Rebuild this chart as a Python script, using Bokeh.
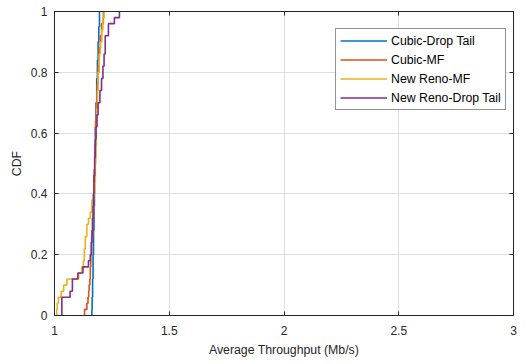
from bokeh.plotting import figure
from bokeh.models import Range1d, FixedTicker, LinearAxis, Legend, LegendItem
from bokeh.embed import file_html
from bokeh.resources import INLINE

# ---- data: CDF step vertices (throughput value, cumulative fraction after the step) ----
cubic_dt_x = [1.163, 1.164, 1.166, 1.168, 1.170, 1.172, 1.174, 1.176, 1.178, 1.181, 1.184, 1.187, 1.190, 1.193, 1.196]
cubic_dt_f = [0.02, 0.06, 0.12, 0.20, 0.28, 0.36, 0.46, 0.54, 0.62, 0.70, 0.78, 0.84, 0.90, 0.95, 1.00]

cubic_mf_x = [1.131, 1.141, 1.146, 1.149, 1.151, 1.154, 1.156, 1.158, 1.162, 1.166, 1.170, 1.173, 1.176, 1.179, 1.182, 1.186, 1.190, 1.195, 1.200, 1.205, 1.213]
cubic_mf_f = [0.02, 0.04, 0.06, 0.08, 0.10, 0.12, 0.16, 0.20, 0.26, 0.32, 0.40, 0.48, 0.56, 0.64, 0.70, 0.76, 0.82, 0.88, 0.92, 0.96, 1.00]

reno_mf_x = [1.010, 1.012, 1.017, 1.029, 1.040, 1.054, 1.105, 1.119, 1.126, 1.130, 1.134, 1.141, 1.148, 1.156, 1.163, 1.170, 1.176, 1.178, 1.180, 1.182, 1.184, 1.187, 1.190, 1.195, 1.200, 1.206, 1.211, 1.216]
reno_mf_f = [0.02, 0.04, 0.06, 0.08, 0.10, 0.12, 0.14, 0.16, 0.18, 0.22, 0.26, 0.30, 0.32, 0.34, 0.38, 0.40, 0.44, 0.50, 0.56, 0.62, 0.68, 0.74, 0.80, 0.86, 0.90, 0.94, 0.98, 1.00]

reno_dt_x = [1.032, 1.068, 1.078, 1.102, 1.124, 1.148, 1.156, 1.160, 1.163, 1.166, 1.168, 1.170, 1.172, 1.175, 1.178, 1.181, 1.185, 1.190, 1.198, 1.205, 1.211, 1.216, 1.221, 1.235, 1.261, 1.283]
reno_dt_f = [0.06, 0.08, 0.12, 0.14, 0.16, 0.18, 0.20, 0.24, 0.28, 0.32, 0.36, 0.40, 0.46, 0.52, 0.58, 0.62, 0.66, 0.70, 0.74, 0.78, 0.82, 0.86, 0.92, 0.96, 0.98, 1.00]

series_names = ["Cubic-Drop Tail", "Cubic-MF", "New Reno-MF", "New Reno-Drop Tail"]
series_colors = ["#0072BD", "#D95319", "#EDB120", "#7E2F8E"]

x_ticks = [1, 1.5, 2, 2.5, 3]
x_tick_labels = ["1", "1.5", "2", "2.5", "3"]
y_ticks = [0, 0.2, 0.4, 0.6, 0.8, 1]
y_tick_labels = ["0", "0.2", "0.4", "0.6", "0.8", "1"]

FONT = "Liberation Sans"
TXT = "#262626"

p = figure(width=521, height=362, x_range=Range1d(1, 3), y_range=Range1d(0, 1),
           output_backend="svg", toolbar_location=None,
           min_border_left=54, min_border_right=8, min_border_top=11, min_border_bottom=47,
           x_axis_label="Average Throughput (Mb/s)", y_axis_label="CDF")

p.outline_line_color = TXT
p.outline_line_width = 1
p.outline_line_alpha = 1

for ax, ticks, labels in ((p.xaxis[0], x_ticks, x_tick_labels), (p.yaxis[0], y_ticks, y_tick_labels)):
    ax.ticker = FixedTicker(ticks=ticks)
    ax.major_label_overrides = {t: l for t, l in zip(ticks, labels)}
    ax.major_tick_in = 4
    ax.major_tick_out = 0
    ax.minor_tick_in = 0
    ax.minor_tick_out = 0
    ax.axis_line_color = TXT
    ax.major_tick_line_color = TXT
    ax.major_label_text_font = FONT
    ax.major_label_text_font_size = "12px"
    ax.major_label_text_color = TXT
    ax.axis_label_text_font = FONT
    ax.axis_label_text_font_size = "12.3px"
    ax.axis_label_text_font_style = "normal"
    ax.axis_label_text_color = TXT

p.xaxis.major_label_standoff = 10
p.xaxis.axis_label_standoff = 5
p.yaxis.major_label_standoff = 7
p.yaxis.axis_label_standoff = 4

# mirrored tick marks on top and right (box on)
for side, ticks in (("above", x_ticks), ("right", y_ticks)):
    a = LinearAxis(ticker=FixedTicker(ticks=ticks), major_label_overrides={t: "" for t in ticks},
                   major_tick_in=4, major_tick_out=0, minor_tick_in=0, minor_tick_out=0,
                   major_label_standoff=0, axis_line_color=TXT, major_tick_line_color=TXT)
    p.add_layout(a, side)

p.xgrid.ticker = FixedTicker(ticks=x_ticks)
p.ygrid.ticker = FixedTicker(ticks=y_ticks)
p.grid.grid_line_color = "#dedede"
p.grid.grid_line_width = 1

all_x = [cubic_dt_x, cubic_mf_x, reno_mf_x, reno_dt_x]
all_f = [cubic_dt_f, cubic_mf_f, reno_mf_f, reno_dt_f]
items = []
for name, col, xs, fs in zip(series_names, series_colors, all_x, all_f):
    sx = [xs[0]] + list(xs)
    sy = [0.0] + list(fs)
    r = p.step(sx, sy, mode="after", line_color=col, line_width=1.6)
    items.append(LegendItem(label=name, renderers=[r]))

legend = Legend(items=items, location=(281, 205))
legend.border_line_color = TXT
legend.border_line_width = 1
legend.background_fill_color = "white"
legend.background_fill_alpha = 1
legend.label_text_font = FONT
legend.label_text_font_size = "12.3px"
legend.label_text_color = "black"
legend.glyph_width = 47
legend.glyph_height = 15
legend.label_height = 15
legend.spacing = 4
legend.padding = 4
legend.margin = 0
legend.label_standoff = 4
p.add_layout(legend, "center")

open("out.html", "w").write(file_html(p, INLINE))
